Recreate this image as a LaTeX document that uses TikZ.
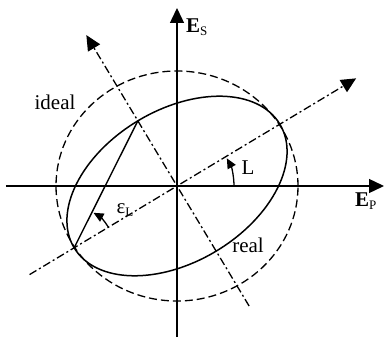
\documentclass[tikz,border=0pt]{standalone}
\usepackage{fontspec}
\setmainfont{Liberation Serif}
\usetikzlibrary{arrows.meta}
\begin{document}
\begin{tikzpicture}[x=1pt,y=1pt,
  axisline/.style={line width=1.4pt,-{Triangle[length=15pt,width=14pt]}},
  dashdotline/.style={line width=1.3pt,dash pattern=on 8pt off 3pt on 2pt off 3pt,-{Triangle[length=15pt,width=14pt]}},
  idealline/.style={line width=1.3pt,dash pattern=on 8pt off 4pt},
  realline/.style={line width=1.5pt},
  anglearrow/.style={line width=1.3pt,-{Triangle[length=10pt,width=9pt]}},
  lbl/.style={font=\fontsize{21}{21}\selectfont,inner sep=0pt,anchor=base},
  axlbl/.style={font=\fontsize{21}{21}\selectfont\bfseries,inner sep=0pt,anchor=base west}
]
\useasboundingbox (-177,-153) rectangle (208,186);
\coordinate (O) at (0,0);
% axes ends
\coordinate (xl) at (-171,0);
\coordinate (xr) at (207,0);
\coordinate (yb) at (0,-151);
\coordinate (yt) at (0,178);
% principal axes
\coordinate (ml) at (211:172);
\coordinate (mr) at (31:209);
\coordinate (nb) at (301:140);
\coordinate (nt) at (121:176);
% ellipse points
\coordinate (A) at (211:120);
\coordinate (B) at (121:76);

% ideal (dashed) circle
\draw[idealline] (O) ellipse[x radius=121,y radius=115];
% real ellipse
\draw[realline,rotate=31] (O) ellipse[x radius=120,y radius=76];

% axes
\draw[axisline] (xl) -- (xr);
\draw[axisline] (yb) -- (yt);
% rotated axes
\draw[dashdotline] (ml) -- (mr);
\draw[dashdotline] (nb) -- (nt);

% chord
\draw[line width=1.4pt] (A) -- (B);

% angle arrows
\draw[anglearrow] (A) ++(31:40) arc[start angle=31,end angle=61,radius=40];
\draw[anglearrow] (O) ++(0:57) arc[start angle=0,end angle=29,radius=57];

% labels
\node[axlbl] (ES) at (9,153) {E\raisebox{-0.3ex}{\mdseries\fontsize{13}{13}\selectfont S}};
\node[axlbl] (EP) at (178,-21) {E\raisebox{-0.3ex}{\mdseries\fontsize{13}{13}\selectfont P}};
\node[lbl] (ideal) at (-122,76) {ideal};
\node[lbl] (real) at (71,-67) {real};
\node[lbl] (L) at (71,11) {L};
\node[lbl] (eps) at (-52,-28) {ε\raisebox{-0.3ex}{\fontsize{13}{13}\selectfont L}};
\end{tikzpicture}
\end{document}
